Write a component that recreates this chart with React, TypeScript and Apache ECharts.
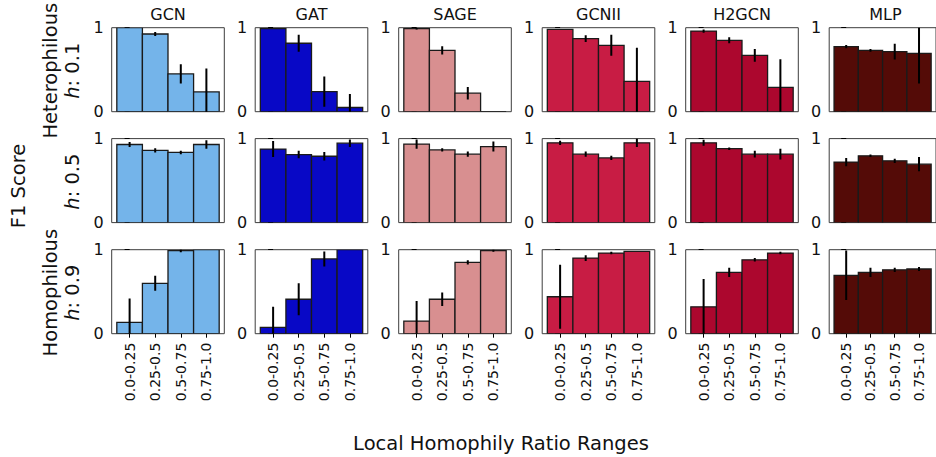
import React, { useEffect, useRef } from "react";
import * as echarts from "echarts";

const models = ["GCN", "GAT", "SAGE", "GCNII", "H2GCN", "MLP"];
const ranges = ["0.0-0.25", "0.25-0.5", "0.5-0.75", "0.75-1.0"];
const rowNames = ["Heterophilous", "", "Homophilous"];
const rowH = ["0.1", "0.5", "0.9"];
const colors = ["#74b4ea", "#0808c6", "#d88f90", "#c81c44", "#ac072e", "#540b07"];

// h = 0.1 (per model: GCN, GAT, SAGE, GCNII, H2GCN, MLP)
const meansH01 = [
  [1.0, 0.925, 0.45, 0.235],
  [0.99, 0.815, 0.24, 0.05],
  [0.99, 0.73, 0.22, 0.0],
  [0.98, 0.87, 0.79, 0.36],
  [0.96, 0.85, 0.67, 0.29],
  [0.775, 0.73, 0.715, 0.695],
];
const errsH01 = [
  [0, 0.025, 0.115, 0.28],
  [0, 0.1, 0.18, 0.16],
  [0.01, 0.05, 0.075, 0],
  [0, 0.04, 0.125, 0.4],
  [0.02, 0.035, 0.075, 0.335],
  [0.02, 0.015, 0.095, 0.36],
];
// h = 0.5
const meansH05 = [
  [0.93, 0.86, 0.835, 0.93],
  [0.875, 0.81, 0.79, 0.945],
  [0.935, 0.865, 0.815, 0.905],
  [0.95, 0.815, 0.77, 0.95],
  [0.95, 0.88, 0.815, 0.815],
  [0.72, 0.795, 0.735, 0.695],
];
const errsH05 = [
  [0.03, 0.025, 0.02, 0.05],
  [0.095, 0.045, 0.05, 0.045],
  [0.055, 0.02, 0.03, 0.06],
  [0.025, 0.03, 0.025, 0.05],
  [0.035, 0.015, 0.04, 0.065],
  [0.05, 0.015, 0.025, 0.085],
];
// h = 0.9
const meansH09 = [
  [0.135, 0.6, 0.99, 1.0],
  [0.075, 0.41, 0.89, 1.0],
  [0.15, 0.41, 0.85, 0.99],
  [0.44, 0.9, 0.96, 0.98],
  [0.32, 0.73, 0.88, 0.96],
  [0.695, 0.73, 0.76, 0.77],
];
const errsH09 = [
  [0.285, 0.09, 0.02, 0],
  [0.245, 0.19, 0.09, 0],
  [0.24, 0.08, 0.025, 0.015],
  [0.38, 0.035, 0.015, 0],
  [0.33, 0.055, 0.02, 0.015],
  [0.295, 0.055, 0.025, 0.025],
];

const rowMeans = [meansH01, meansH05, meansH09];
const rowErrs = [errsH01, errsH05, errsH09];

const FONT = "DejaVu Sans";

export default function App() {
  const ref = useRef<HTMLDivElement>(null);
  useEffect(() => {
    if (!ref.current) return;
    const chart = echarts.init(ref.current, null, { renderer: "svg" });
    const W = 112.6;
    const H = 84;
    const lefts = models.map((_, c) => 111.7 + 143.5 * c);
    const tops = [27.7, 138.6, 249.7];
    const grids: any[] = [];
    const xAxes: any[] = [];
    const yAxes: any[] = [];
    const series: any[] = [];
    const graphics: any[] = [];
    let k = 0;
    for (let r = 0; r < 3; r++) {
      for (let c = 0; c < models.length; c++) {
        grids.push({
          left: lefts[c],
          top: tops[r],
          width: W,
          height: H,
          show: true,
          borderColor: "#3d3d3d",
          borderWidth: 1,
          backgroundColor: "#fff",
        });
        const bottom = r === 2;
        xAxes.push({
          type: "value",
          gridIndex: k,
          min: -0.7,
          max: 3.7,
          axisLine: { show: false },
          splitLine: { show: false },
          axisTick: {
            show: bottom,
            customValues: [0, 1, 2, 3],
            length: 4,
            lineStyle: { color: "#000" },
          },
          axisLabel: {
            show: bottom,
            customValues: [0, 1, 2, 3],
            rotate: 90,
            margin: 9,
            fontSize: 14,
            fontFamily: FONT,
            color: "#111",
            formatter: (v: number) => ranges[Math.round(v)] ?? "",
          },
        });
        yAxes.push({
          type: "value",
          gridIndex: k,
          min: 0,
          max: 1,
          interval: 1,
          axisLine: { show: false },
          splitLine: { show: false },
          axisTick: { show: true, length: 5, lineStyle: { color: "#000" } },
          axisLabel: {
            fontSize: 16,
            fontFamily: FONT,
            color: "#111",
            margin: 8,
            formatter: (v: number) => String(Math.round(v)),
          },
        });
        const means = rowMeans[r][c];
        const errs = rowErrs[r][c];
        const color = colors[c];
        series.push({
          type: "custom",
          xAxisIndex: k,
          yAxisIndex: k,
          clip: true,
          data: means.map((m, i) => [i, m, errs[i]]),
          renderItem: (params: any, api: any) => {
            const i = api.value(0);
            const v = api.value(1);
            const e = api.value(2);
            const p0 = api.coord([i - 0.5, v]);
            const p1 = api.coord([i + 0.5, 0]);
            const children: any[] = [
              {
                type: "rect",
                shape: { x: p0[0], y: p0[1], width: p1[0] - p0[0], height: p1[1] - p0[1] },
                style: { fill: color, stroke: "#1a1a1a", lineWidth: 1.3 },
              },
            ];
            if (e > 0) {
              const t = api.coord([i, v + e]);
              const b = api.coord([i, v - e]);
              children.push({
                type: "line",
                shape: { x1: t[0], y1: t[1], x2: b[0], y2: b[1] },
                style: { stroke: "#000", lineWidth: 2 },
              });
            }
            return { type: "group", children };
          },
        });
        k++;
      }
    }
    models.forEach((m, c) => {
      graphics.push({
        type: "text",
        x: lefts[c] + W / 2,
        y: 14,
        style: {
          text: m,
          fontSize: 16,
          fontFamily: FONT,
          fill: "#111",
          align: "center",
          verticalAlign: "middle",
        },
      });
    });
    for (let r = 0; r < 3; r++) {
      const cy = tops[r] + H / 2 + 1;
      if (rowNames[r]) {
        graphics.push({
          type: "text",
          x: 50,
          y: cy,
          rotation: Math.PI / 2,
          style: {
            text: rowNames[r],
            fontSize: 19.5,
            fontFamily: FONT,
            fill: "#111",
            align: "center",
            verticalAlign: "middle",
          },
        });
      }
      graphics.push({
        type: "text",
        x: 72,
        y: cy,
        rotation: Math.PI / 2,
        style: {
          text: "{i|h}: " + rowH[r],
          fontSize: 19.5,
          fontFamily: FONT,
          fill: "#111",
          align: "center",
          verticalAlign: "middle",
          rich: {
            i: { fontStyle: "italic", fontSize: 19.5, fontFamily: FONT, fill: "#111" },
          },
        },
      });
    }
    graphics.push({
      type: "text",
      x: 18,
      y: 186,
      rotation: Math.PI / 2,
      style: {
        text: "F1 Score",
        fontSize: 19.5,
        fontFamily: FONT,
        fill: "#111",
        align: "center",
        verticalAlign: "middle",
      },
    });
    graphics.push({
      type: "text",
      x: 501,
      y: 443,
      style: {
        text: "Local Homophily Ratio Ranges",
        fontSize: 19.5,
        fontFamily: FONT,
        fill: "#111",
        align: "center",
        verticalAlign: "middle",
      },
    });
    chart.setOption({
      animation: false,
      backgroundColor: "#fff",
      grid: grids,
      xAxis: xAxes,
      yAxis: yAxes,
      series,
      graphic: graphics,
    });
    return () => chart.dispose();
  }, []);
  return (
    <div
      ref={ref}
      style={{ position: "absolute", left: 0, top: 0, width: 936, height: 457 }}
    />
  );
}
